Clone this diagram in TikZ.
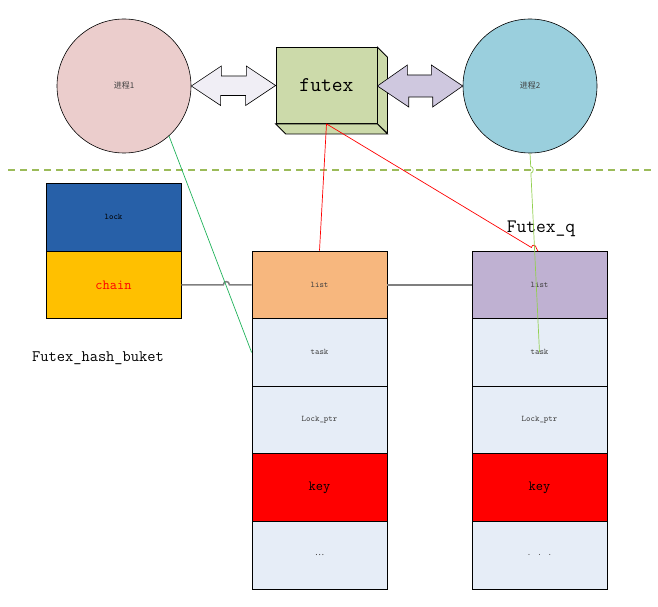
\documentclass[tikz,border=0pt]{standalone}
\usepackage{fontspec}
\newfontfamily\cjk{Noto Sans CJK SC}
\usetikzlibrary{calc}
\definecolor{pinkc}{HTML}{EBCDCC}
\definecolor{bluec}{HTML}{9ACFDD}
\definecolor{arrA}{HTML}{F0EEF5}
\definecolor{arrB}{HTML}{CFC8DF}
\definecolor{cubec}{HTML}{CCDAAA}
\definecolor{lockc}{HTML}{2760A8}
\definecolor{chainc}{HTML}{FFC000}
\definecolor{listL}{HTML}{F7B77E}
\definecolor{listR}{HTML}{BFB1D2}
\definecolor{cellc}{HTML}{E6EDF7}
\definecolor{dashc}{HTML}{9BBB59}
\definecolor{greenA}{HTML}{20B25A}
\definecolor{greenB}{HTML}{92D050}
\definecolor{grayc}{HTML}{7F7F7F}
\definecolor{txtc}{HTML}{404040}
\begin{document}
\begin{tikzpicture}[x=1pt,y=-1pt,
  proc/.style={circle,draw=black,line width=0.6pt,minimum size=134pt,inner sep=0pt,
     font=\cjk\fontsize{8}{9}\selectfont,text=txtc},
  cell/.style={draw=black,line width=0.8pt,minimum width=135pt,minimum height=67.6pt,
     inner sep=0pt,fill=cellc,font=\ttfamily\fontsize{8.5}{9}\selectfont,text=txtc},
  bigcell/.style={cell,font=\ttfamily\fontsize{14}{15}\selectfont,text=black},
  dblarr/.style={draw=black,line width=0.6pt},
  conn/.style={line width=0.7pt},
  lbl/.style={font=\ttfamily\fontsize{16}{18}\selectfont,inner sep=0pt}]
\useasboundingbox (0,0) rectangle (658,607);

% separator
\coordinate (dl) at (8,170);
\coordinate (dr) at (652,170);
\draw[dashc,line width=1.3pt,dash pattern=on 7pt off 5pt] (dl) -- (dr);

% processes and futex
\node[proc,fill=pinkc] (p1) at (124,86) {进程1};
\node[proc,fill=bluec] (p2) at (530,86) {进程2};
\node[draw=black,line width=0.8pt,fill=cubec,minimum width=101pt,minimum height=76pt,inner sep=0pt,
      font=\ttfamily\fontsize{21}{22}\selectfont] (futex) at (326.5,85.5) {futex};
\draw[line width=0.8pt,fill=cubec] (futex.north east) -- ++(10,10) -- ++(0,76) -- (futex.south east) -- cycle;
\draw[line width=0.8pt,fill=cubec] (futex.south west) -- (futex.south east) -- ++(10,10) -- ($(futex.south west)+(10,10)$) -- cycle;

% double arrows
\draw[dblarr,fill=arrA] (p1.east) -- ++(30,-20) -- ++(0,10) -- ++(25,0) -- ++(0,-10)
   -- (futex.west) -- ++(-30,20) -- ++(0,-10) -- ++(-25,0) -- ++(0,10) -- cycle;
\draw[dblarr,fill=arrB] ($(futex.east)+(0,0.5)$) -- ++(30,-21) -- ++(0,10) -- ++(24,0) -- ++(0,-10)
   -- (p2.west) -- ++(-30,21) -- ++(0,-10) -- ++(-24,0) -- ++(0,10) -- cycle;

% hash bucket
\node[cell,fill=lockc,text=black,minimum height=68pt] (lock) at (113.5,217) {lock};
\node[bigcell,fill=chainc,text=red] (chain) at (113.5,284.8) {chain};
\node[lbl] (hb) at (98,358) {Futex\_hash\_buket};

% left futex_q
\node[cell,fill=listL] (L1) at (319.5,284.8) {list};
\node[cell] (L2) at (319.5,352.4) {task};
\node[cell] (L3) at (319.5,420) {Lock\_ptr};
\node[bigcell,fill=red] (L4) at (319.5,487.6) {key};
\node[cell] (L5) at (319.5,555.2) {\cjk …};

% right futex_q
\node[cell,fill=listR] (R1) at (539.5,284.8) {list};
\node[cell] (R2) at (539.5,352.4) {task};
\node[cell] (R3) at (539.5,420) {Lock\_ptr};
\node[bigcell,fill=red] (R4) at (539.5,487.6) {key};
\node[cell] (R5) at (539.5,555.2) {. . .};
\node[lbl,font=\ttfamily\fontsize{19}{20}\selectfont] (fq) at (541,229) {Futex\_q};

% connectors
\draw[grayc,line width=1.5pt] (chain.east) -- (223.4,284.8) .. controls (223.4,280.5) and (229.4,280.5) .. (229.4,284.8) -- (L1.west);
\draw[grayc,line width=1.5pt] (L1.east) -- (R1.west);
\draw[greenA,conn] (p1.-48) -- (L2.west);
\draw[red,conn] (futex.south) -- (L1.north);
\coordinate (qend) at (538,251.2);
\draw[red,conn] (futex.south) -- (531.4,247.5) .. controls (532,244) and (536,244.5) .. (536.5,248.5) -- (qend);
\draw[greenB,conn] (p2.south) -- (530.7,166.5) .. controls (534,166.5) and (534,173) .. (530.9,173) -- (R2.center);
\end{tikzpicture}
\end{document}
